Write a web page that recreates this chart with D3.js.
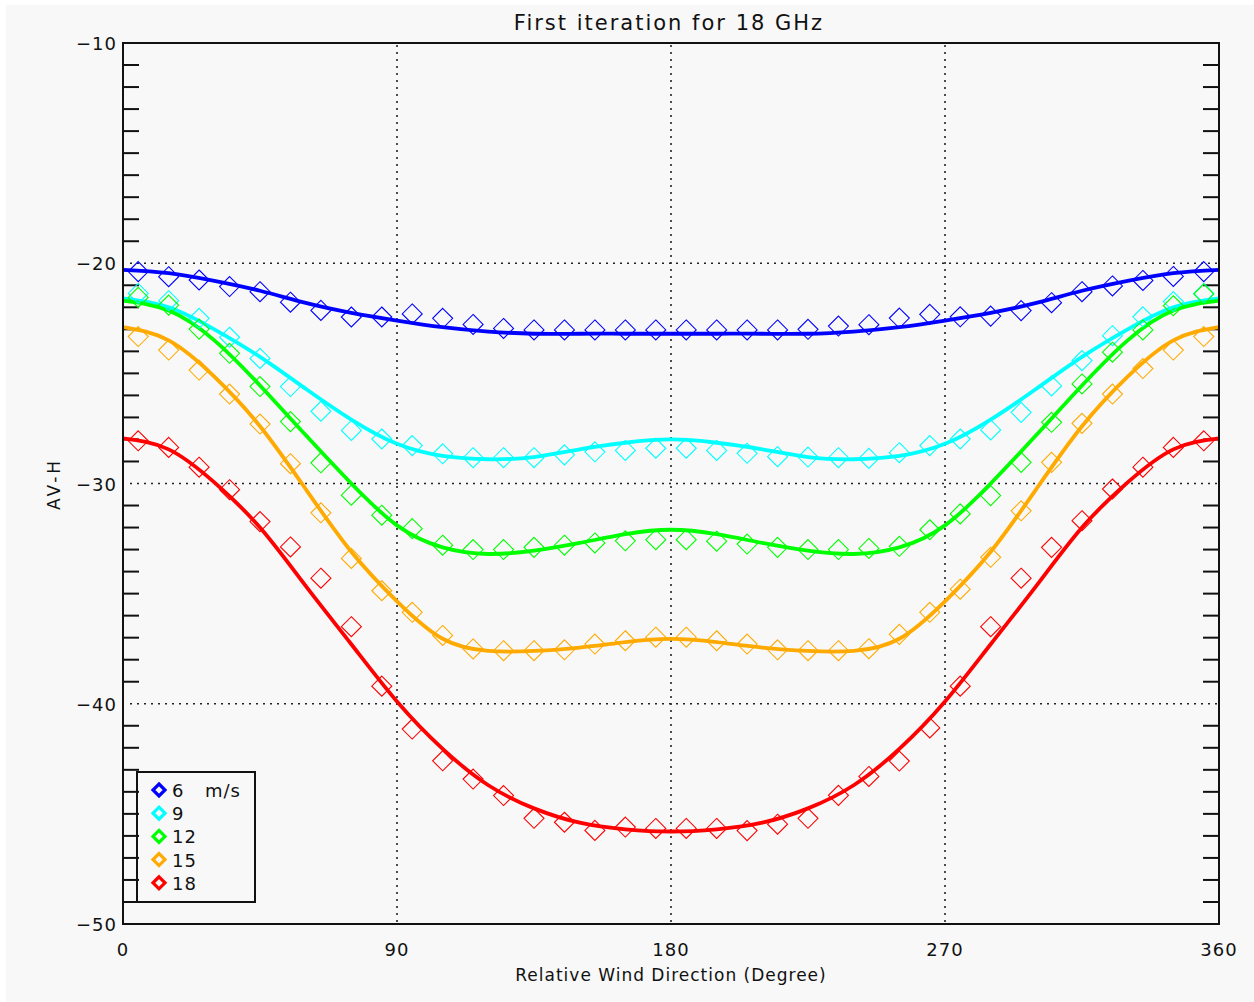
<!DOCTYPE html>
<html lang="en">
<head>
    <meta charset="UTF-8">
    <title>First iteration for 18 GHz</title>
    <script src="https://d3js.org/d3.v7.min.js"></script>
    <style>
        body {
            margin: 0;
            background-color: #fff;
            font-family: "DejaVu Sans", sans-serif;
        }
        .grid {
            stroke: #222;
            stroke-width: 1.6;
            stroke-dasharray: 2,5;
            fill: none;
        }
        .frame {
            stroke: #111;
            stroke-width: 2;
            fill: none;
        }
        .tick {
            stroke: #111;
            stroke-width: 2;
        }
        .lbl {
            font-size: 18px;
            letter-spacing: 1px;
            fill: #111;
        }
    </style>
</head>
<body>
    <svg id="chart" width="1254" height="1002"></svg>

    <script>
        // wind directions (degrees)
        const lineDeg = [0, 15, 30, 45, 60, 75, 90, 105, 120, 135, 150, 165, 180,
                         195, 210, 225, 240, 255, 270, 285, 300, 315, 330, 345, 360];
        const markDeg = [5, 15, 25, 35, 45, 55, 65, 75, 85, 95, 105, 115, 125, 135, 145, 155, 165, 175,
                         185, 195, 205, 215, 225, 235, 245, 255, 265, 275, 285, 295, 305, 315, 325, 335, 345, 355];

        const speeds = ["6", "9", "12", "15", "18"];
        const colors = ["#0000ff", "#00ffff", "#00ff00", "#ffaa00", "#ff0000"];

        // fitted curves
        const fit6  = [-20.3, -20.45, -20.8, -21.25, -21.8, -22.25, -22.6, -22.9, -23.1, -23.2, -23.2, -23.2, -23.2,
                       -23.2, -23.2, -23.2, -23.1, -22.9, -22.6, -22.25, -21.8, -21.25, -20.8, -20.45, -20.3];
        const fit9  = [-21.6, -22.0, -23.0, -24.25, -25.7, -27.1, -28.2, -28.75, -28.9, -28.8, -28.45, -28.15, -28.0,
                       -28.15, -28.45, -28.8, -28.9, -28.75, -28.2, -27.1, -25.7, -24.25, -23.0, -22.0, -21.6];
        const fit12 = [-21.7, -22.15, -23.5, -25.55, -27.8, -30.0, -31.9, -32.9, -33.2, -33.05, -32.7, -32.3, -32.1,
                       -32.3, -32.7, -33.05, -33.2, -32.9, -31.9, -30.0, -27.8, -25.55, -23.5, -22.15, -21.7];
        const fit15 = [-22.9, -23.5, -25.15, -27.4, -30.25, -33.1, -35.35, -37.05, -37.6, -37.6, -37.45, -37.2, -37.05,
                       -37.2, -37.45, -37.6, -37.6, -37.05, -35.35, -33.1, -30.25, -27.4, -25.15, -23.5, -22.9];
        const fit18 = [-27.95, -28.45, -29.95, -32.0, -34.65, -37.3, -39.9, -42.05, -43.7, -44.75, -45.4, -45.7, -45.8,
                       -45.7, -45.4, -44.75, -43.7, -42.05, -39.9, -37.3, -34.65, -32.0, -29.95, -28.45, -27.95];

        // measured points
        const obs6  = [-20.38, -20.61, -20.76, -21.06, -21.29, -21.77, -22.14, -22.44, -22.44, -22.3, -22.5, -22.78,
                       -22.96, -23.03, -23.03, -23.03, -23.03, -23.03, -23.03, -23.03, -23.03, -23.03, -23.0, -22.85,
                       -22.79, -22.49, -22.32, -22.43, -22.4, -22.15, -21.79, -21.29, -21.03, -20.78, -20.6, -20.38];
        const obs9  = [-21.37, -21.7, -22.5, -23.36, -24.32, -25.6, -26.72, -27.59, -27.98, -28.28, -28.65, -28.83,
                       -28.83, -28.83, -28.7, -28.56, -28.5, -28.4, -28.4, -28.5, -28.63, -28.78, -28.8, -28.83,
                       -28.86, -28.6, -28.28, -27.98, -27.57, -26.77, -25.57, -24.42, -23.29, -22.43, -21.74, -21.37];
        const obs12 = [-21.55, -21.9, -22.99, -24.09, -25.6, -27.19, -29.06, -30.53, -31.44, -32.05, -32.8, -33.0,
                       -33.0, -32.9, -32.8, -32.7, -32.6, -32.55, -32.55, -32.62, -32.75, -32.9, -33.0, -33.0,
                       -32.95, -32.85, -32.1, -31.38, -30.55, -29.04, -27.22, -25.48, -24.04, -23.03, -21.93, -21.4];
        const obs15 = [-23.33, -23.94, -24.85, -25.94, -27.3, -29.1, -31.33, -33.4, -34.87, -35.85, -36.9, -37.51,
                       -37.59, -37.59, -37.55, -37.29, -37.14, -36.98, -36.98, -37.14, -37.29, -37.55, -37.59, -37.59,
                       -37.5, -36.85, -35.85, -34.8, -33.35, -31.24, -29.04, -27.27, -25.94, -24.78, -23.94, -23.33];
        const obs18 = [-28.06, -28.36, -29.26, -30.28, -31.73, -32.88, -34.3, -36.5, -39.2, -41.15, -42.59, -43.42,
                       -44.17, -45.2, -45.38, -45.75, -45.6, -45.66, -45.66, -45.66, -45.76, -45.47, -45.2, -44.16,
                       -43.3, -42.6, -41.1, -39.2, -36.5, -34.3, -32.9, -31.69, -30.25, -29.26, -28.36, -28.06];

        const fits = [fit6, fit9, fit12, fit15, fit18];
        const obs = [obs6, obs9, obs12, obs15, obs18];

        const xTicks = [0, 90, 180, 270, 360];
        const yTicks = [-10, -20, -30, -40, -50];

        const svg = d3.select("#chart");

        // light grey plot background
        svg.append("rect").attr("x", 6).attr("y", 5).attr("width", 1248).attr("height", 997).attr("fill", "#f8f8f8");

        const x = d3.scaleLinear().domain([0, 360]).range([123, 1219]);
        const y = d3.scaleLinear().domain([-50, -10]).range([924, 43]);

        // dotted grid
        svg.append("g").selectAll("line")
            .data(xTicks.slice(1, -1))
            .enter().append("line")
            .attr("class", "grid")
            .attr("x1", d => x(d)).attr("x2", d => x(d))
            .attr("y1", y(-10) + 2).attr("y2", y(-50));
        svg.append("g").selectAll("line")
            .data(yTicks.slice(1, -1))
            .enter().append("line")
            .attr("class", "grid")
            .attr("x1", x(0) + 7).attr("x2", x(360))
            .attr("y1", d => y(d)).attr("y2", d => y(d));

        // minor ticks on left and right axes
        const minor = d3.range(-49, -10).filter(v => v % 10 !== 0);
        const tg = svg.append("g");
        tg.selectAll(".tl").data(minor).enter().append("line")
            .attr("class", "tick")
            .attr("x1", x(0)).attr("x2", x(0) + 16)
            .attr("y1", d => y(d)).attr("y2", d => y(d));
        tg.selectAll(".tr").data(minor).enter().append("line")
            .attr("class", "tick")
            .attr("x1", x(360)).attr("x2", x(360) - 16)
            .attr("y1", d => y(d)).attr("y2", d => y(d));

        // tick labels
        svg.append("g").selectAll("text")
            .data(yTicks)
            .enter().append("text")
            .attr("class", "lbl")
            .attr("x", 117)
            .attr("y", d => y(d) + 7)
            .attr("text-anchor", "end")
            .text(d => "\u2212" + Math.abs(d));
        svg.append("g").selectAll("text")
            .data(xTicks)
            .enter().append("text")
            .attr("class", "lbl")
            .attr("x", d => x(d))
            .attr("y", 956)
            .attr("text-anchor", "middle")
            .text(d => d);

        // curves
        const line = d3.line()
            .x((d, i) => x(lineDeg[i]))
            .y(d => y(d))
            .curve(d3.curveNatural);

        fits.forEach((s, k) => {
            svg.append("path")
                .datum(s)
                .attr("d", line)
                .attr("fill", "none")
                .attr("stroke", colors[k])
                .attr("stroke-width", 3.8);
        });

        // diamonds
        const dia = r => `M0,${-r}L${r},0L0,${r}L${-r},0Z`;
        obs.forEach((s, k) => {
            svg.append("g").selectAll("path")
                .data(s)
                .enter().append("path")
                .attr("d", dia(10))
                .attr("transform", (d, i) => `translate(${x(markDeg[i])},${y(d)})`)
                .attr("fill", "none")
                .attr("stroke", colors[k])
                .attr("stroke-width", 1.1);
        });

        // frame
        svg.append("rect").attr("class", "frame")
            .attr("x", x(0)).attr("y", y(-10))
            .attr("width", x(360) - x(0)).attr("height", y(-50) - y(-10));

        // legend
        const lg = svg.append("g");
        lg.append("rect")
            .attr("x", 137).attr("y", 772).attr("width", 118).attr("height", 130)
            .attr("fill", "none").attr("stroke", "#111").attr("stroke-width", 2);
        speeds.forEach((s, k) => {
            const ly = 790 + k * 23.2;
            lg.append("path")
                .attr("d", dia(6))
                .attr("transform", `translate(159,${ly})`)
                .attr("fill", "none")
                .attr("stroke", colors[k])
                .attr("stroke-width", 3.2);
            lg.append("text")
                .attr("class", "lbl")
                .attr("x", 172).attr("y", ly + 7)
                .attr("font-size", "19px")
                .text(s);
        });
        lg.append("text").attr("class", "lbl")
            .attr("x", 205).attr("y", 797)
            .attr("font-size", "19px")
            .attr("letter-spacing", "2px")
            .text("m/s");

        // titles
        svg.append("text")
            .attr("x", 669).attr("y", 30)
            .attr("text-anchor", "middle")
            .attr("font-size", "21px").attr("fill", "#111")
            .attr("letter-spacing", "2px")
            .text("First iteration for 18 GHz");
        svg.append("text")
            .attr("x", 671).attr("y", 981)
            .attr("text-anchor", "middle")
            .attr("font-size", "17px").attr("fill", "#111")
            .attr("letter-spacing", "1px")
            .text("Relative Wind Direction (Degree)");
        svg.append("text")
            .attr("transform", "translate(60,484) rotate(-90)")
            .attr("text-anchor", "middle")
            .attr("font-size", "17px").attr("fill", "#111")
            .attr("letter-spacing", "3px")
            .text("AV-H");
    </script>
</body>
</html>
